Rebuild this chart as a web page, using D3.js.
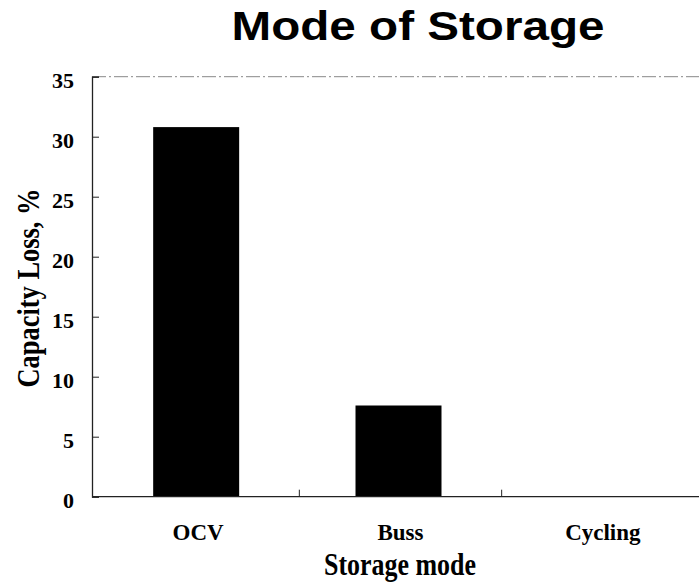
<!DOCTYPE html>
<html>
<head>
<meta charset="utf-8">
<script src="https://cdn.jsdelivr.net/npm/d3@7"></script>
<style>
  body { margin: 0; background: #fff; }
  svg { display: block; }
  .serif { font-family: "Liberation Serif", "Times New Roman", serif; font-weight: bold; fill: #000; }
</style>
</head>
<body>
<div id="chart"></div>
<script>
// Data
const categories = ["OCV", "Buss", "Cycling"];
const capacityLoss = [30.8, 7.6, 0];
const yTicks = [0, 5, 10, 15, 20, 25, 30, 35];

const W = 699, H = 582;
const plot = { left: 92, right: 704, top: 76.7, bottom: 496.7 };

const svg = d3.select("#chart").append("svg")
    .attr("width", W)
    .attr("height", H);

// Scales
const x = d3.scaleBand()
    .domain(categories)
    .range([97, plot.right])
    .padding(0);

const y = d3.scaleLinear()
    .domain([0, 35])
    .range([plot.bottom, plot.top]);

// Faint top border
svg.append("line")
    .attr("x1", plot.left).attr("x2", W)
    .attr("y1", plot.top).attr("y2", plot.top)
    .attr("stroke", "#888")
    .attr("stroke-width", 1)
    .attr("stroke-dasharray", "14,3,2,3");

// Bars
const barFrac = 0.425;
svg.selectAll("rect.bar")
    .data(categories.map((c, i) => ({ c, v: capacityLoss[i] })))
    .enter().append("rect")
    .attr("class", "bar")
    .attr("x", d => x(d.c) + x.bandwidth() * (1 - barFrac) / 2 - 2)
    .attr("width", x.bandwidth() * barFrac)
    .attr("y", d => y(d.v))
    .attr("height", d => y(0) - y(d.v))
    .attr("fill", "#000");

// Y axis, ticks pointing inward
const yAxis = svg.append("g")
    .attr("transform", `translate(${plot.left},0)`)
    .call(d3.axisLeft(y).tickValues(yTicks).tickSize(-7).tickPadding(18));
yAxis.select(".domain").attr("stroke", "#222").attr("stroke-width", 1.3);
yAxis.selectAll(".tick line").attr("stroke", "#222");
yAxis.selectAll(".tick text")
    .attr("class", "serif")
    .attr("dy", "0.48em")
    .style("font-size", "22px");

// X axis with labels under each category
const xAxis = svg.append("g")
    .attr("transform", `translate(0,${plot.bottom})`)
    .call(d3.axisBottom(x).tickSize(0).tickPadding(28));
xAxis.select(".domain").remove();
xAxis.selectAll(".tick text")
    .attr("class", "serif")
    .attr("dy", "0.66em")
    .style("font-size", "23px");

svg.append("line")
    .attr("x1", plot.left).attr("x2", W)
    .attr("y1", plot.bottom).attr("y2", plot.bottom)
    .attr("stroke", "#222")
    .attr("stroke-width", 1.3);

// Category boundary ticks pointing up
svg.selectAll("line.xtick")
    .data(categories.slice(0, -1))
    .enter().append("line")
    .attr("class", "xtick")
    .attr("x1", d => x(d) + x.bandwidth())
    .attr("x2", d => x(d) + x.bandwidth())
    .attr("y1", plot.bottom)
    .attr("y2", plot.bottom - 7)
    .attr("stroke", "#222");

// Axis titles
svg.append("text")
    .attr("class", "serif")
    .attr("x", 400)
    .attr("y", 575)
    .attr("text-anchor", "middle")
    .attr("textLength", 152)
    .attr("lengthAdjust", "spacingAndGlyphs")
    .style("font-size", "31px")
    .text("Storage mode");

svg.append("text")
    .attr("class", "serif")
    .attr("transform", "translate(39,288) rotate(-90)")
    .attr("text-anchor", "middle")
    .attr("textLength", 199)
    .attr("lengthAdjust", "spacingAndGlyphs")
    .style("font-size", "31px")
    .text("Capacity Loss, %");

// Title
svg.append("text")
    .attr("x", 418)
    .attr("y", 40)
    .attr("text-anchor", "middle")
    .attr("textLength", 373)
    .attr("lengthAdjust", "spacingAndGlyphs")
    .style("font-family", "'Liberation Sans', Arial, sans-serif")
    .style("font-weight", "bold")
    .style("font-size", "41px")
    .text("Mode of Storage");
</script>
</body>
</html>
